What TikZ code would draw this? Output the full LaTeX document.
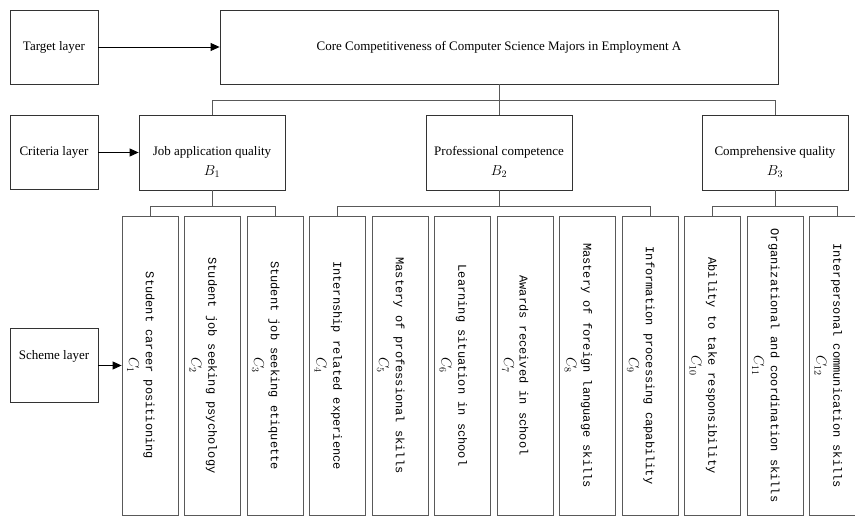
\documentclass[tikz,border=0pt]{standalone}
\usepackage{fontspec}
\setmainfont{Liberation Serif}
\setmonofont{Liberation Mono}
\usetikzlibrary{positioning, arrows.meta, calc}

\begin{document}
\begin{tikzpicture}[x=1pt, y=-1pt, >={Triangle[length=9pt, width=8pt]},
    font=\fontsize{13}{15}\selectfont,
    box/.style={draw=black!80, line width=0.8pt, inner sep=0pt, align=center},
    layerbox/.style={box, minimum width=88pt, minimum height=74pt},
    critbox/.style={box, minimum width=146pt, minimum height=75pt},
    schemebox/.style={box, draw=black!65, minimum width=56pt, minimum height=299pt},
    vtext/.style={rotate=-90, inner sep=0pt, font=\ttfamily\fontsize{12}{14}\selectfont},
    vlab/.style={rotate=-90, inner sep=0pt, font=\fontsize{14}{16}\selectfont},
    blab/.style={inner sep=0pt, font=\fontsize{14}{16}\selectfont},
    link/.style={draw=black!65, line width=0.7pt}]

    % Parameter der Anordnung
    \def\yTop{47}       % Mitte Zielebene
    \def\yCrit{152.5}   % Mitte Kriterienebene
    \def\yScheme{365.5} % Mitte Schemaebene
    \def\cPitch{62.5}   % Abstand der Schemaboxen

    \useasboundingbox (0,0) rectangle (855,518);
    \clip (0,0) rectangle (855,518);

    % --- Ebenen links ---
    \node[layerbox] (tgt) at (54, \yTop) {Target layer};
    \node[layerbox] (crit) at (54, \yCrit) {Criteria layer};
    \node[layerbox] (scheme) at (54, \yScheme) {};
    \node (schemetxt) at ($(scheme.center)+(0,-9)$) {Scheme layer};

    % --- Ziel ---
    \node[box, minimum width=558pt, minimum height=74pt] (goal) at (499, \yTop)
        {Core Competitiveness of Computer Science Majors in Employment A};

    % --- Kriterien ---
    \node[critbox] (b1) at (212, \yCrit) {Job application quality};
    \node[critbox] (b2) at (499, \yCrit) {Professional competence};
    \node[critbox] (b3) at (775, \yCrit) {Comprehensive quality};
    \foreach \k in {1,2,3}
        \node[blab] (bl\k) at ($(b\k.center)+(0,19)$) {$B_{\k}$};

    % --- Schema ---
    \foreach \i/\txt in {1/Student career positioning,
                         2/Student job seeking psychology,
                         3/Student job seeking etiquette,
                         4/Internship related experience,
                         5/Mastery of professional skills,
                         6/Learning situation in school,
                         7/Awards received in school,
                         8/Mastery of foreign language skills,
                         9/Information processing capability,
                         10/Ability to take responsibility,
                         11/Organizational and coordination skills,
                         12/Interpersonal communication skills} {
        \node[schemebox] (c\i) at ({150+\cPitch*(\i-1)}, \yScheme) {};
        \node[vtext] (ct\i) at ($(c\i.center)+(-1,0)$) {\txt};
        \node[vlab] (cl\i) at ($(c\i.center)+(-17,0)$) {$C_{\i}$};
    }

    % Pfeile der Ebenen
    \draw[->, line width=0.8pt] (tgt) -- (goal);
    \draw[->, line width=0.8pt] (crit) -- (b1);
    \draw[->, line width=0.8pt] (scheme) -- (c1);

    % Verbindungen Ziel -> Kriterien
    \draw[link] (goal.south) -- (b2.north);
    \draw[link] (b1.north) |- ($(goal.south)+(0,16)$) -| (b3.north);

    % Verbindungen Kriterien -> Schema
    \draw[link] (b1.south) -- ++(0,16);
    \draw[link] (c1.north) |- ($(b1.south)+(0,16)$) -| (c3.north);
    \draw[link] (b2.south) -- ++(0,16);
    \draw[link] (c4.north) |- ($(b2.south)+(0,16)$) -| (c9.north);
    \draw[link] (b3.south) -- ++(0,16);
    \draw[link] (c10.north) |- ($(b3.south)+(0,16)$) -| (c12.north);

\end{tikzpicture}
\end{document}
